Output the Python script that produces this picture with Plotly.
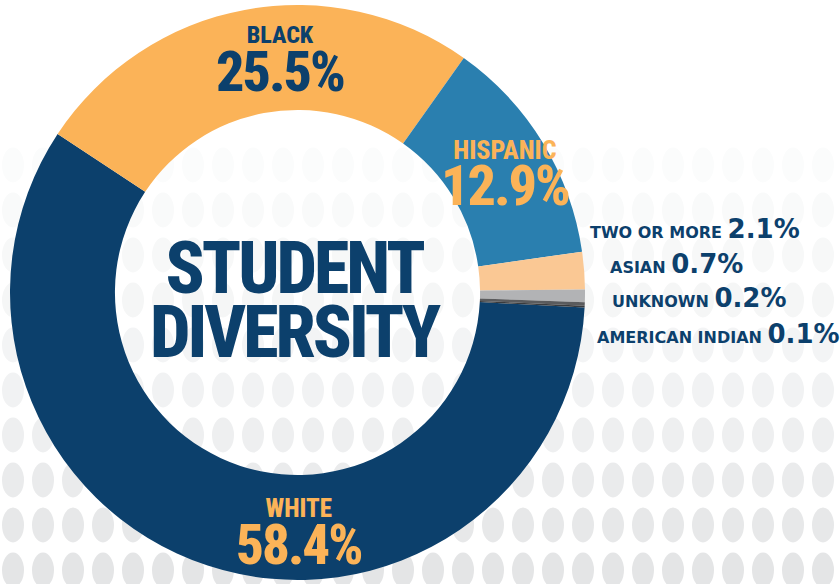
import plotly.graph_objects as go

# ---- data ----
categories = ["WHITE", "BLACK", "HISPANIC", "TWO OR MORE", "ASIAN", "UNKNOWN", "AMERICAN INDIAN"]
values = [58.4, 25.5, 12.9, 2.1, 0.7, 0.2, 0.1]
title_lines = ["STUDENT", "DIVERSITY"]

# ---- style ----
NAVY = "#0C406C"
ORANGE = "#FBB358"
BLUE = "#2A7FAF"
slice_colors = [NAVY, ORANGE, BLUE, "#FAC894", "#B2B3B5", "#5A5B5D", "#3A3B3D"]

W, H = 840, 584
NARROW = "Roboto Condensed, Open Sans, sans-serif"
WIDE = "DejaVu Sans, Verdana, sans-serif"


def px(x):
    return x / W


def py(y):
    return 1 - y / H


fig = go.Figure()

# background dot pattern (decoration)
shapes = []
row_colors = {570: "#E4E5E6", 525: "#E7E8E9", 480: "#EAEBEC", 435: "#EEEFF0",
              390: "#F1F2F3", 345: "#F3F4F5", 300: "#F5F6F6", 255: "#F7F8F8",
              210: "#F9FAFA", 165: "#FBFCFC"}
for ry, col in row_colors.items():
    cx = 13
    while cx < W + 12:
        shapes.append(dict(type="circle", xref="paper", yref="paper", layer="below",
                           x0=px(cx - 11), x1=px(cx + 11), y0=py(ry + 17.5), y1=py(ry - 17.5),
                           fillcolor=col, line=dict(width=0)))
        cx += 30

fig.add_trace(go.Pie(
    labels=categories,
    values=values,
    hole=0.635,
    sort=False,
    direction="clockwise",
    rotation=93,
    marker=dict(colors=slice_colors, line=dict(width=0)),
    textinfo="none",
    hoverinfo="label+percent",
    showlegend=False,
    domain=dict(x=[px(10), px(585)], y=[py(580), py(5)]),
))

ann = []


def two_line(line1, size1, line2, size2, base, x, y_mid, color, sp1=0, sp2=0):
    t1 = f"<span style='font-size:{size1}px;letter-spacing:{sp1}px'>{line1}</span>"
    t2 = f"<span style='font-size:{size2}px;letter-spacing:{sp2}px'>{line2}</span>"
    ann.append(dict(text=f"{t1}<br>{t2}", x=px(x), y=py(y_mid),
                    xref="paper", yref="paper", xanchor="center", yanchor="middle",
                    align="center", showarrow=False,
                    font=dict(family=NARROW, size=base, color=color, weight=800)))


# slice labels (name + value); y_mid = middle of the two-line text box
two_line(categories[1], 24, f"{values[1]}%", 56, 37, 280, 63, NAVY, sp2=-2)
two_line(categories[2], 26, f"{values[2]}%", 56, 35.5, 505, 177, ORANGE, sp2=-2)
two_line(categories[0], 25, f"{values[0]}%", 55, 36, 298, 535.5, ORANGE, sp2=-2)

# center title
two_line(title_lines[0], 72, title_lines[1], 72, 49.2, 295.5, 300.5, NAVY, sp1=-3, sp2=-3)

# small slice labels
small_pos = [(588, 229.5), (608, 264), (610, 298), (595, 334)]
for i, (x, y) in enumerate(small_pos):
    idx = 3 + i
    ann.append(dict(
        text=f"<b>{categories[idx]} <span style='font-size:26px'>{values[idx]}%</span></b>",
        x=px(x), y=py(y), xref="paper", yref="paper",
        xanchor="left", yanchor="middle", showarrow=False,
        font=dict(family=WIDE, size=16, color=NAVY)))

fig.update_layout(
    width=W, height=H,
    margin=dict(l=0, r=0, t=0, b=0),
    paper_bgcolor="white",
    plot_bgcolor="white",
    shapes=shapes,
    annotations=ann,
)

fig.write_html("out.html", config={"displayModeBar": False},
               post_script="document.body.style.margin='0';document.body.style.overflow='hidden';")
